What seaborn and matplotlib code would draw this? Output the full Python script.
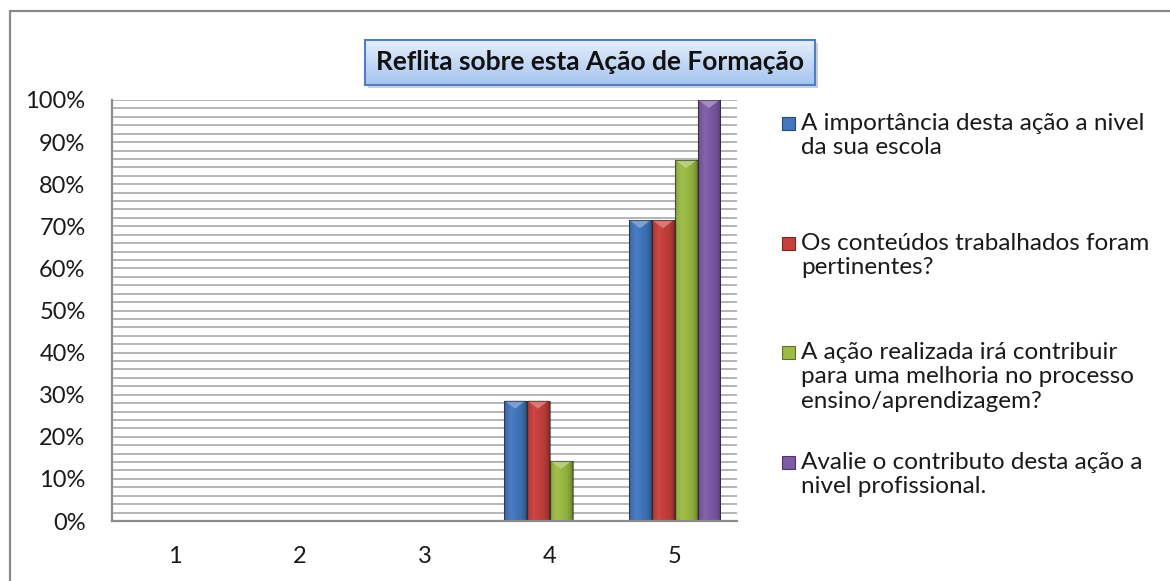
import numpy as np
import pandas as pd
import seaborn as sns
import matplotlib.pyplot as plt
from matplotlib.lines import Line2D
from matplotlib.patches import Rectangle, Polygon
from matplotlib.colors import to_rgb

categories = ['1', '2', '3', '4', '5']
importancia = [0, 0, 0, 28.57, 71.43]
conteudos = [0, 0, 0, 28.57, 71.43]
melhoria = [0, 0, 0, 14.29, 85.71]
profissional = [0, 0, 0, 0, 100]
series_names = ['A importância desta ação a nivel\nda sua escola',
                'Os conteúdos trabalhados foram\npertinentes?',
                'A ação realizada irá contribuir\npara uma melhoria no processo\nensino/aprendizagem?',
                'Avalie o contributo desta ação a\nnivel profissional.']
colors = ['#4277bd', '#c6403c', '#9bbb45', '#7e5ba6']
title = 'Reflita sobre esta Ação de Formação'

rows = []
for name, vals in zip(series_names, [importancia, conteudos, melhoria, profissional]):
    for c, v in zip(categories, vals):
        rows.append({'cat': c, 'serie': name, 'valor': v})
df = pd.DataFrame(rows)

sns.set_style('white')
plt.rcParams['font.family'] = ['Lato', 'DejaVu Sans']

W, H = 1170, 581
fig = plt.figure(figsize=(W / 100, H / 100), dpi=100)
ax = fig.add_axes([112 / W, 1 - 521 / H, (737 - 112) / W, (521 - 100) / H])

sns.barplot(data=df, x='cat', y='valor', hue='serie', palette=colors,
            width=0.736, legend=False, ax=ax, edgecolor='none', saturation=1)

ax.set_ylim(0, 100)
ax.set_xlim(-0.5, 4.5)
ax.set_yticks(np.arange(0, 101, 10))
ax.set_yticks(np.arange(0, 101, 2), minor=True)
ax.set_yticklabels([f'{v}%' for v in range(0, 101, 10)])
ax.yaxis.grid(True, which='both', color='#b0b0b0', lw=1.3)
ax.set_axisbelow(True)
ax.tick_params(axis='y', which='both', length=0, pad=19, labelsize=17, labelcolor='#1a1a1a')
ax.tick_params(axis='x', length=0, pad=18, labelsize=17, labelcolor='#1a1a1a')
ax.set_xlabel('')
ax.set_ylabel('')
for s in ['top', 'right']:
    ax.spines[s].set_visible(False)
for s in ['left', 'bottom']:
    ax.spines[s].set_color('#8c8c8c')
    ax.spines[s].set_linewidth(1.6)


def shade(base, f):
    b = np.array(to_rgb(base))
    if f >= 1:
        return b + (1 - b) * (f - 1)
    return b * f


# cylinder-like shading across each bar, light bevel at the top
t = np.linspace(0, 1, 64)
profile = np.interp(t, [0, 0.06, 0.3, 0.75, 0.94, 1], [0.6, 0.92, 1.05, 0.92, 0.78, 0.5])
px_y = 100 / 421
for cont, col in zip(ax.containers, colors):
    grad = np.array([shade(col, f) for f in profile])[None, :, :]
    for bar in cont:
        h = bar.get_height()
        if h <= 0:
            continue
        x0, w = bar.get_x(), bar.get_width()
        im = ax.imshow(grad, extent=[x0, x0 + w, 0, h], aspect='auto',
                       zorder=bar.get_zorder() + 0.1, interpolation='bilinear')
        im.set_clip_path(bar)
        ax.add_patch(Rectangle((x0, 0), w, h, fill=False, ec='#2b2b2b', lw=0.8,
                               alpha=0.6, zorder=bar.get_zorder() + 0.3))
        d = 8 * px_y
        ax.add_patch(Polygon([[x0 + w * 0.04, h], [x0 + w * 0.96, h], [x0 + w / 2, h - d]],
                             closed=True, fc=shade(col, 1.3), ec='none',
                             zorder=bar.get_zorder() + 0.2))
ax.set_xlim(-0.5, 4.5)
ax.set_ylim(0, 100)

# outer chart border (left and top visible)
fig.add_artist(Line2D([9.5 / W, 9.5 / W], [0, 1 - 10.5 / H], transform=fig.transFigure,
                      color='#8a8a8a', lw=1.6))
fig.add_artist(Line2D([9.5 / W, 1], [1 - 10.5 / H, 1 - 10.5 / H], transform=fig.transFigure,
                      color='#8a8a8a', lw=1.6))

# title box with gradient and shadow
fig.add_artist(Rectangle(((365 + 3) / W, 1 - (85 + 3) / H), 450 / W, 45 / H,
                         transform=fig.transFigure, fc='#a0a0a0', ec='none', alpha=0.5,
                         zorder=-1))
tax = fig.add_axes([365 / W, 1 - 85 / H, 450 / W, 45 / H])
vg = np.linspace(0, 1, 50)[:, None, None]
top_c, bot_c = np.array(to_rgb('#e6effc')), np.array(to_rgb('#a4c3ee'))
tax.imshow(top_c + (bot_c - top_c) * vg * np.ones((1, 2, 1)), aspect='auto',
           extent=[0, 1, 0, 1])
tax.set_xticks([])
tax.set_yticks([])
for s in tax.spines.values():
    s.set_color('#4f7fc0')
    s.set_linewidth(1.5)
tax.text(0.5, 0.5, title, ha='center', va='center', fontsize=19, fontweight='bold',
         color='#111111', transform=tax.transAxes)

# legend
first_line_y = [123, 243, 352, 462]
for name, col, yy in zip(series_names, colors, first_line_y):
    fig.add_artist(Rectangle((782 / W, 1 - (yy + 6.5) / H), 13 / W, 13 / H,
                             transform=fig.transFigure, fc=col, ec=shade(col, 0.6), lw=0.8))
    fig.text(801 / W, 1 - (yy - 10) / H, name, ha='left', va='top', fontsize=17.5,
             color='#1a1a1a', linespacing=1.2)

fig.savefig('out.png', dpi=100)
